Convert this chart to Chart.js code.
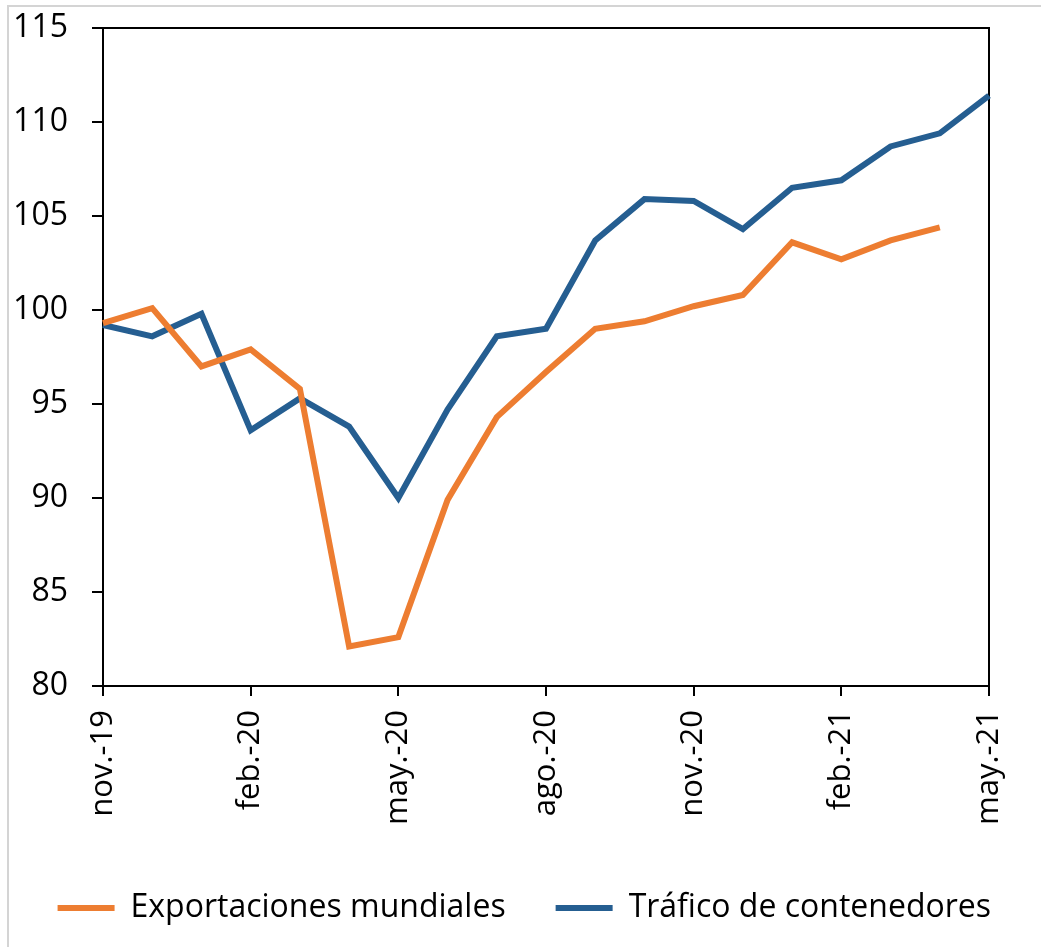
<!DOCTYPE html>
<html>
<head>
<meta charset="utf-8">
<script src="https://cdn.jsdelivr.net/npm/chart.js@4.4.1/dist/chart.umd.min.js"></script>
<style>
  html, body { margin: 0; padding: 0; background: #fff; }
  #wrap { position: relative; width: 1041px; height: 947px; }
  #frame {
    position: absolute; left: 7px; top: 5px; right: 0; bottom: 0;
    border-top: 2px solid #d4d4d4; border-left: 2px solid #d4d4d4;
    pointer-events: none;
  }
  canvas { position: absolute; left: 0; top: 0; }
</style>
</head>
<body>
<div id="wrap">
  <canvas id="chart" width="1041" height="947"></canvas>
  <div id="frame"></div>
</div>
<script>
// Months, Nov-2019 .. May-2021 (only every third one is labelled)
const months = ['nov.-19', 'dic.-19', 'ene.-20', 'feb.-20', 'mar.-20', 'abr.-20', 'may.-20',
  'jun.-20', 'jul.-20', 'ago.-20', 'sep.-20', 'oct.-20', 'nov.-20', 'dic.-20',
  'ene.-21', 'feb.-21', 'mar.-21', 'abr.-21', 'may.-21'];

// Exportaciones mundiales (no value yet for May-21)
const exportaciones = [99.3, 100.1, 97.0, 97.9, 95.8, 82.1, 82.6, 89.9, 94.3, 96.7,
  99.0, 99.4, 100.2, 100.8, 103.6, 102.7, 103.7, 104.4, null];

// Tráfico de contenedores
const trafico = [99.2, 98.6, 99.8, 93.6, 95.3, 93.8, 90.0, 94.7, 98.6, 99.0,
  103.7, 105.9, 105.8, 104.3, 106.5, 106.9, 108.7, 109.4, 111.4];

const labelEvery = 3;
const yMin = 80;
const yMax = 115;
const yStep = 5;

const FONT = '"Open Sans", "Liberation Sans", sans-serif';

// Box around the plot area (top and right sides, like the Excel original)
const plotFrame = {
  id: 'plotFrame',
  beforeDatasetsDraw(chart) {
    const { ctx, chartArea } = chart;
    ctx.save();
    ctx.strokeStyle = '#000';
    ctx.lineWidth = 2;
    ctx.strokeRect(chartArea.left, chartArea.top, chartArea.right - chartArea.left, chartArea.bottom - chartArea.top);
    ctx.restore();
  },
};

const ctx = document.getElementById('chart').getContext('2d');
new Chart(ctx, {
  type: 'line',
  data: {
    labels: months,
    datasets: [
      {
        label: 'Exportaciones mundiales',
        data: exportaciones,
        borderColor: '#ED7D31',
        backgroundColor: '#ED7D31',
        borderWidth: 6,
        pointRadius: 0,
        tension: 0,
      },
      {
        label: 'Tráfico de contenedores',
        data: trafico,
        borderColor: '#255E91',
        backgroundColor: '#255E91',
        borderWidth: 6,
        pointRadius: 0,
        tension: 0,
      },
    ],
  },
  options: {
    responsive: false,
    devicePixelRatio: 1,
    animation: false,
    layout: { padding: { left: 0, top: 28, right: 0, bottom: 13 } },
    plugins: {
      tooltip: { enabled: false },
      legend: {
        position: 'bottom',
        align: 'end',
        labels: {
          color: '#000',
          font: { family: FONT, size: 32 },
          boxWidth: 57,
          boxHeight: 6,
          padding: 50,
          generateLabels(chart) {
            return Chart.defaults.plugins.legend.labels.generateLabels(chart)
              .map((item) => ({ ...item, lineWidth: 0 }));
          },
        },
      },
    },
    scales: {
      x: {
        offset: false,
        border: { display: true, color: '#000', width: 2 },
        grid: {
          drawOnChartArea: false,
          drawTicks: true,
          tickLength: 10,
          lineWidth: 2,
          color: (c) => (c.index % labelEvery === 0 ? '#000' : 'rgba(0,0,0,0)'),
        },
        ticks: {
          autoSkip: false,
          maxRotation: 90,
          minRotation: 90,
          padding: 14,
          color: '#000',
          font: { family: FONT, size: 31 },
          callback: (val, idx) => (idx % labelEvery === 0 ? months[idx] : ''),
        },
        afterFit(scale) {
          scale.height = 156;
          scale.paddingRight = 52;
        },
      },
      y: {
        min: yMin,
        max: yMax,
        border: { display: true, color: '#000', width: 2 },
        grid: {
          drawOnChartArea: false,
          drawTicks: true,
          tickLength: 11,
          lineWidth: 2,
          color: '#000',
        },
        ticks: {
          stepSize: yStep,
          padding: 24,
          color: '#000',
          font: { family: FONT, size: 32 },
        },
        afterFit(scale) {
          scale.width = 103;
          scale.paddingTop = 0;
        },
      },
    },
  },
  plugins: [plotFrame],
});
</script>
</body>
</html>
